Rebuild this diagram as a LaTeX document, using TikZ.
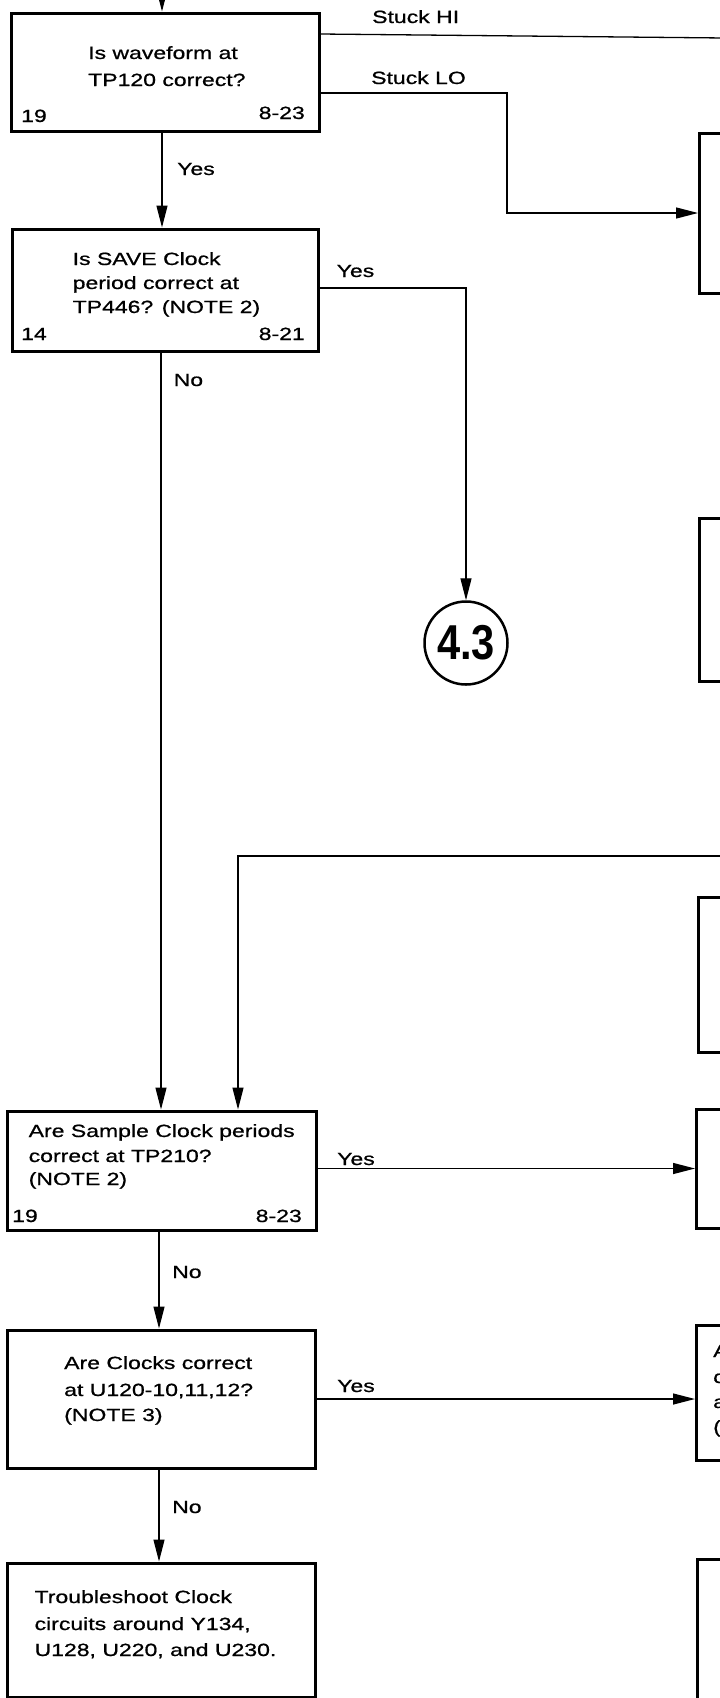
\documentclass[tikz,border=0pt]{standalone}
\usepackage{fontspec}
\setmainfont{Liberation Sans}[FakeStretch=1.3, FakeBold=0.8]
\newfontfamily\circfont{Liberation Sans}[FakeStretch=0.85]
\usetikzlibrary{arrows.meta}
\begin{document}
\begin{tikzpicture}[x=1pt,y=-1pt,
  box/.style={draw, line width=3pt, rectangle, inner sep=0pt},
  conn/.style={line width=1.3pt},
  arr/.style={conn, -{Triangle[length=22pt,width=11pt]}},
  txt/.style={inner sep=0pt, anchor=base west, font=\fontsize{17.7}{26}\selectfont},
  txtr/.style={txt, anchor=base east},
]
\clip (0,0) rectangle (720,1698);
\fill[white] (0,0) rectangle (720,1698);

% left column boxes
\node[box, minimum width=308pt, minimum height=118pt] (b1) at (165,72) {};
\node[box, minimum width=306pt, minimum height=122pt] (b2) at (165,290) {};
\node[box, minimum width=309pt, minimum height=119pt] (b3) at (161.5,1170.5) {};
\node[box, minimum width=308pt, minimum height=138pt] (b4) at (161,1399) {};
\node[box, minimum width=308pt, minimum height=134pt] (b5) at (161,1630) {};

% right partial boxes
\node[box, anchor=west, minimum width=200pt, minimum height=160pt] (bA) at (698,213) {};
\node[box, anchor=west, minimum width=200pt, minimum height=163pt] (bB) at (698,599.5) {};
\node[box, anchor=west, minimum width=200pt, minimum height=155pt] (bC) at (697,974.5) {};
\node[box, anchor=west, minimum width=200pt, minimum height=119pt] (bD) at (695,1168.5) {};
\node[box, anchor=west, minimum width=200pt, minimum height=135pt] (bE) at (695,1392.5) {};
\node[box, anchor=north west, minimum width=200pt, minimum height=200pt] (bF) at (696,1558) {};

% connector circle
\node[draw, circle, line width=2.5pt, minimum size=83pt, inner sep=0pt,
      font=\circfont\bfseries\fontsize{49}{49}\selectfont] (c43) at (466,643) {4.3};

% box texts
\node[txt] (t1a) at (88,59) {Is waveform at};
\node[txt] (t1b) at (88,86) {TP120 correct?};
\node[txt] (t1c) at (21,122) {19};
\node[txtr] (t1d) at (305,119) {8-23};

\node[txt] (t2a) at (72.5,265) {Is SAVE Clock};
\node[txt] (t2b) at (72.5,289) {period correct at};
\node[txt] (t2c) at (72.5,313) {TP446? (NOTE 2)};
\node[txt] (t2d) at (21,340) {14};
\node[txtr] (t2e) at (305,340) {8-21};

\node[txt] (t3a) at (28.5,1137) {Are Sample Clock periods};
\node[txt] (t3b) at (28.5,1162) {correct at TP210?};
\node[txt] (t3c) at (28.5,1185) {(NOTE 2)};
\node[txt] (t3d) at (12,1222) {19};
\node[txtr] (t3e) at (302,1222) {8-23};

\node[txt] (t4a) at (64,1369) {Are Clocks correct};
\node[txt] (t4b) at (64,1396) {at U120-10,11,12?};
\node[txt] (t4c) at (64,1421) {(NOTE 3)};

\node[txt] (t5a) at (34.4,1603) {Troubleshoot Clock};
\node[txt] (t5b) at (34.4,1630) {circuits around Y134,};
\node[txt] (t5c) at (34.4,1656) {U128, U220, and U230.};

\node[txt] (tEa) at (713,1357) {A};
\node[txt] (tEb) at (713,1383) {c};
\node[txt] (tEc) at (713,1408) {a};
\node[txt] (tEd) at (713,1433) {(};

% helper coordinates
\coordinate (top) at (162,-10);
\coordinate (hiend) at (725,38);
\coordinate (lox) at (507,0);
\coordinate (xa) at (161,0);
\coordinate (xb) at (159,0);
\coordinate (xl) at (238,0);
\coordinate (loop) at (725,856);

% connectors
\draw[arr] (top) -- (top |- b1.north);
\draw[conn] (b1.east |- 0,34) -- (hiend);
\draw[arr] (b1.east |- 0,93) -| (lox |- bA.west) -- (bA.west);
\draw[arr] (b1.south -| top) -- (b2.north -| top);
\draw[arr] (b2.east |- 0,288) -| (c43.north);
\draw[arr] (b2.south -| xa) -- (b3.north -| xa);
\draw[arr] (loop) -| (xl |- b3.north);
\draw[arr] (b3.east |- bD.west) -- (bD.west);
\draw[arr] (b3.south -| xb) -- (b4.north -| xb);
\draw[arr] (b4.east) -- (bE.west |- b4.east);
\draw[arr] (b4.south -| xb) -- (b5.north -| xb);

% connector labels
\node[txt] (lhi) at (372,23) {Stuck HI};
\node[txt] (llo) at (371,84) {Stuck LO};
\node[txt] (ly1) at (177,175) {Yes};
\node[txt] (ly2) at (336.5,277) {Yes};
\node[txt] (ln1) at (173.5,386) {No};
\node[txt] (ly3) at (337,1165) {Yes};
\node[txt] (ln2) at (172,1278) {No};
\node[txt] (ly4) at (337,1392) {Yes};
\node[txt] (ln3) at (172,1513) {No};
\end{tikzpicture}
\end{document}
